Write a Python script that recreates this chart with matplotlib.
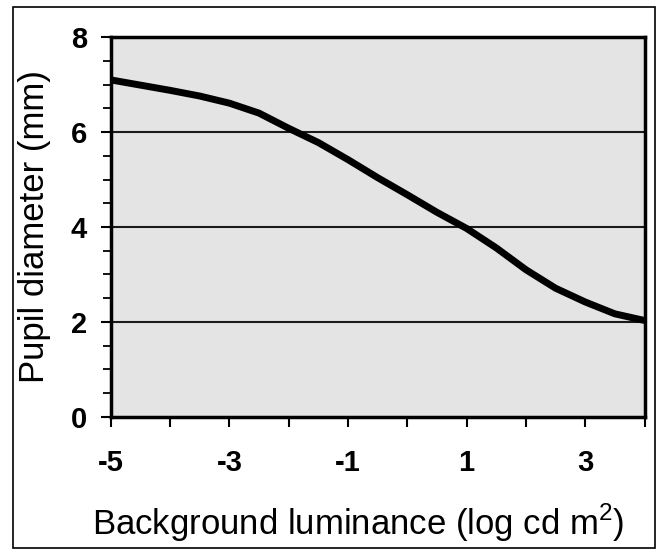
import matplotlib
matplotlib.use('Agg')
import matplotlib.pyplot as plt
from matplotlib.patches import Rectangle
from matplotlib.ticker import MultipleLocator

plt.rcParams['font.family'] = 'Liberation Sans'
plt.rcParams['mathtext.fontset'] = 'custom'
plt.rcParams['mathtext.rm'] = 'Liberation Sans'
plt.rcParams['axes.unicode_minus'] = False

# Pupil diameter against background luminance (log cd/m2)
luminance = [-5, -4.5, -4, -3.5, -3, -2.5, -2, -1.5, -1, -0.5,
             0, 0.5, 1, 1.5, 2, 2.5, 3, 3.5, 4]
diameter = [7.10, 6.99, 6.88, 6.76, 6.61, 6.40, 6.08, 5.78, 5.42, 5.04,
            4.68, 4.31, 3.97, 3.56, 3.10, 2.71, 2.42, 2.17, 2.03]

x_ticks = [-5, -4, -3, -2, -1, 0, 1, 2, 3, 4]
x_ticklabels = ['-5', '', '-3', '', '-1', '', '1', '', '3', '']
y_ticks = [0, 2, 4, 6, 8]

fig = plt.figure(figsize=(6.57, 5.55), dpi=100)
ax = fig.add_axes([0.1685, 0.249, 0.8125, 0.684])

ax.set_facecolor('#e4e4e4')
for y in [2, 4, 6]:
    ax.axhline(y, color='#1a1a1a', lw=1.5, zorder=1)

ax.plot(luminance, diameter, color='black', lw=5, solid_capstyle='butt', zorder=3)

ax.set_xlim(-5, 4)
ax.set_ylim(0, 8)
ax.set_xticks(x_ticks)
ax.set_xticklabels(x_ticklabels)
ax.set_yticks(y_ticks)
ax.yaxis.set_minor_locator(MultipleLocator(0.5))

for s in ax.spines.values():
    s.set_linewidth(2.5)
    s.set_zorder(4)

ax.tick_params(axis='both', which='major', direction='out', length=7, width=1.5,
               labelsize=21)
ax.tick_params(axis='x', which='major', pad=16)
ax.tick_params(axis='y', which='major', pad=10)
ax.tick_params(axis='y', which='minor', direction='out', length=6, width=1.3)
for lab in ax.get_xticklabels() + ax.get_yticklabels():
    lab.set_fontweight('bold')

ax.set_xlabel('Background luminance (log cd m$^{2}$)', fontsize=25)
ax.xaxis.set_label_coords(0.463, -0.225)
ax.set_ylabel('Pupil diameter (mm)', fontsize=25, labelpad=14)

# frame around the whole figure
fig.patches.append(Rectangle((13 / 657, 7 / 555), 642 / 657, 541 / 555,
                             transform=fig.transFigure, fill=False,
                             edgecolor='black', lw=1.2))

fig.savefig('out.png', dpi=100)
